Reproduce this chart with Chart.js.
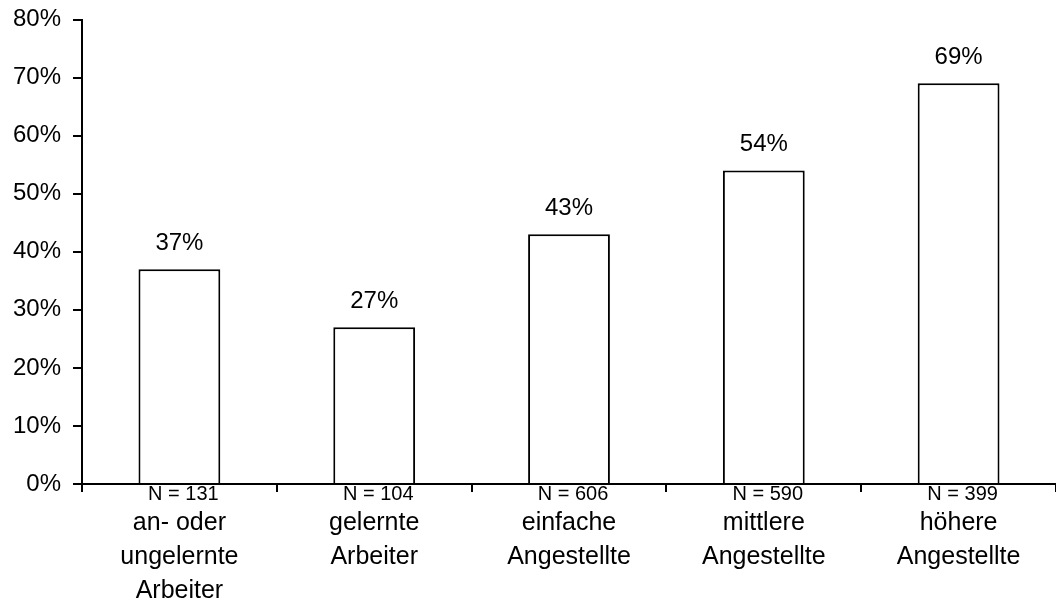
<!DOCTYPE html>
<html>
<head>
<meta charset="utf-8">
<script src="https://cdn.jsdelivr.net/npm/chart.js@4/dist/chart.umd.min.js"></script>
<style>
  html, body { margin: 0; padding: 0; background: #fff; }
  #wrap { width: 1056px; height: 606px; position: relative; }
</style>
</head>
<body>
<div id="wrap"><canvas id="chart"></canvas></div>
<script>
const groups = [
  ['an- oder', 'ungelernte', 'Arbeiter'],
  ['gelernte', 'Arbeiter'],
  ['einfache', 'Angestellte'],
  ['mittlere', 'Angestellte'],
  ['höhere', 'Angestellte']
]
const sampleSizes = ['N = 131', 'N = 104', 'N = 606', 'N = 590', 'N = 399']
const shares = [37, 27, 43, 54, 69]
const yTicks = [0, 10, 20, 30, 40, 50, 60, 70, 80]

const FONT = "'Liberation Sans', Arial, sans-serif"

// Prozentwerte über die Balken schreiben
const valueLabels = {
  id: 'valueLabels',
  afterDatasetsDraw(chart) {
    const ctx = chart.ctx
    const meta = chart.getDatasetMeta(0)
    ctx.save()
    ctx.font = '24px ' + FONT
    ctx.fillStyle = '#000'
    ctx.textAlign = 'center'
    ctx.textBaseline = 'alphabetic'
    meta.data.forEach((bar, i) => {
      ctx.fillText(shares[i] + '%', bar.x, bar.y - 19)
    })
    ctx.restore()
  }
}

new Chart(document.getElementById('chart'), {
  type: 'bar',
  data: {
    labels: sampleSizes,
    datasets: [{
      data: shares,
      backgroundColor: '#fff',
      borderColor: '#000',
      borderWidth: 2,
      categoryPercentage: 1,
      barPercentage: 0.42
    }]
  },
  options: {
    responsive: true,
    maintainAspectRatio: false,
    animation: false,
    layout: { padding: { top: 19.5, right: 0, bottom: 0, left: 0 } },
    plugins: {
      legend: { display: false },
      tooltip: { enabled: false }
    },
    scales: {
      y: {
        min: 0,
        max: 80,
        afterBuildTicks: scale => { scale.ticks = yTicks.map(v => ({ value: v })) },
        afterFit: scale => {
          scale.width = 82
          scale.paddingTop = 0
          scale.paddingBottom = 0
        },
        ticks: {
          color: '#000',
          font: { family: FONT, size: 24 },
          padding: 12,
          callback: v => v + '%'
        },
        grid: { drawOnChartArea: false, drawTicks: true, tickLength: 9, color: '#000', lineWidth: 2 },
        border: { display: true, color: '#000', width: 2 }
      },
      x: {
        position: 'bottom',
        offset: true,
        afterFit: scale => { scale.height = 18 },
        ticks: {
          color: '#000',
          font: { family: FONT, size: 20 },
          padding: -9.5,
          labelOffset: 4,
          maxRotation: 0,
          autoSkip: false
        },
        grid: { offset: true, drawOnChartArea: false, drawTicks: true, tickLength: 8, color: '#000', lineWidth: 2 },
        border: { display: true, color: '#000', width: 2 }
      },
      x2: {
        type: 'category',
        position: 'bottom',
        labels: groups,
        offset: true,
        afterFit: scale => { scale.height = 104 },
        ticks: {
          color: '#000',
          font: { family: FONT, size: 25, lineHeight: 1.36 },
          padding: -4,
          maxRotation: 0,
          autoSkip: false
        },
        grid: { display: false },
        border: { display: false }
      }
    }
  },
  plugins: [valueLabels]
})
</script>
</body>
</html>
